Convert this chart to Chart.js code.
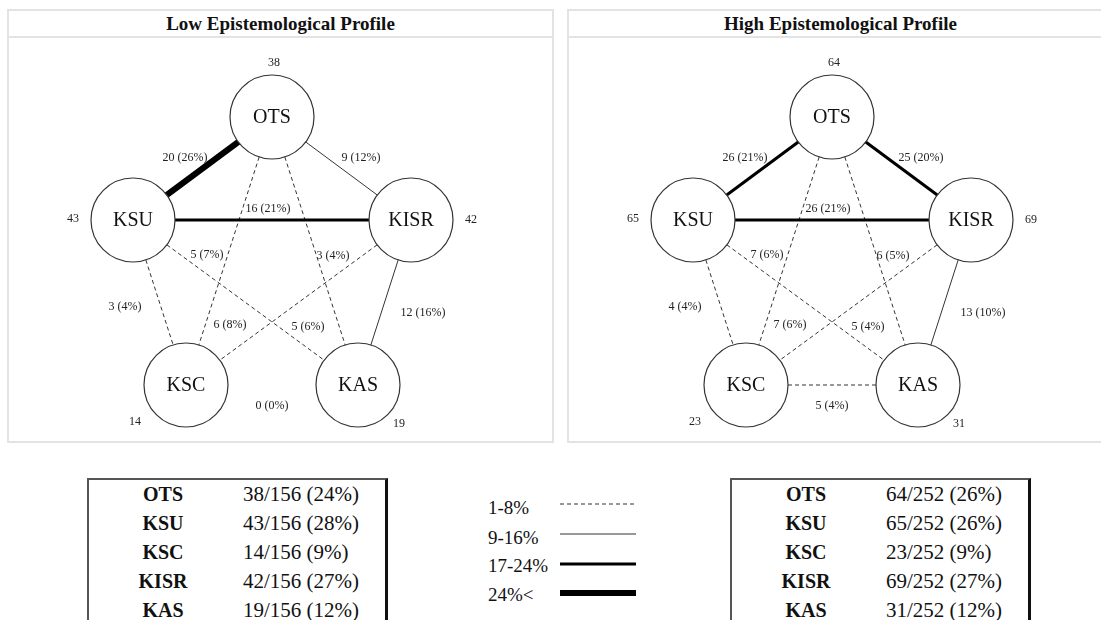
<!DOCTYPE html>
<html>
<head>
<meta charset="utf-8">
<script src="https://cdn.jsdelivr.net/npm/chart.js@4.4.1/dist/chart.umd.min.js"></script>
<style>
  body { margin: 0; width: 1101px; height: 620px; overflow: hidden; background: #fff; position: relative;
         font-family: 'Liberation Serif', 'Times New Roman', serif; color: #111; }
  .panel { position: absolute; top: 9px; width: 547px; height: 434px; border: 2px solid #e3e3e3; box-sizing: border-box; }
  .panel-title { position: absolute; left: 0; top: 0; width: 100%; height: 25px; line-height: 25px; text-align: center;
                 font-weight: bold; font-size: 19px; border-bottom: 2px solid #e3e3e3; }
  .panel canvas { position: absolute; left: 0; top: 0; }
  .share-table { position: absolute; top: 478px; width: 301px; height: 160px; box-sizing: border-box;
                 border-top: 2px solid #555; border-left: 2px solid #555; border-right: 3px solid #111; }
  .share-row { position: absolute; left: 0; width: 100%; height: 29px; line-height: 29px; }
  .share-row .name { position: absolute; left: 0; width: 148px; text-align: center; font-weight: bold; font-size: 20px; }
  .share-row .value { position: absolute; left: 154px; font-size: 21px; }
  .legend-label { position: absolute; left: 488px; font-size: 19px; height: 24px; line-height: 24px; }
  .legend-line { position: absolute; left: 560px; }
</style>
</head>
<body>

<div class="panel" style="left:7px">
  <div class="panel-title">Low Epistemological Profile</div>
  <canvas id="lowChart" width="543" height="430"></canvas>
</div>
<div class="panel" style="left:567px">
  <div class="panel-title">High Epistemological Profile</div>
  <canvas id="highChart" width="543" height="430"></canvas>
</div>

<div class="share-table" id="low-table" style="left:87px"></div>
<div class="share-table" id="high-table" style="left:730px"></div>
<div id="legend"></div>

<script>
// institutions, in table order
const nodeNames = ['OTS', 'KSU', 'KSC', 'KISR', 'KAS'];

// node counts per profile
const lowNodeCounts = [38, 43, 14, 42, 19];
const lowNodePct = [24, 28, 9, 27, 12];
const lowTotal = 156;
const highNodeCounts = [64, 65, 23, 69, 31];
const highNodePct = [26, 26, 9, 27, 12];
const highTotal = 252;

// collaborations between institutions
const edgeFrom = ['OTS', 'OTS', 'KSU', 'KSU', 'KISR', 'OTS', 'OTS', 'KSU', 'KISR', 'KSC'];
const edgeTo   = ['KSU', 'KISR', 'KISR', 'KAS', 'KSC', 'KSC', 'KAS', 'KSC', 'KAS', 'KAS'];
const lowEdgeCounts  = [20, 9, 16, 5, 3, 6, 5, 3, 12, 0];
const lowEdgePct     = [26, 12, 21, 7, 4, 8, 6, 4, 16, 0];
const highEdgeCounts = [26, 25, 26, 7, 6, 7, 5, 4, 13, 5];
const highEdgePct    = [21, 20, 21, 6, 5, 6, 4, 4, 10, 4];

// line classes of the legend
const tierLabels = ['1-8%', '9-16%', '17-24%', '24%<'];
const tierMax = [8, 16, 24, Infinity];

// pentagon layout (same for both panels)
const nodeX = [263, 124, 177, 402, 349];
const nodeY = [106, 209, 374, 209, 374];
const countX = [265, 64, 126, 462, 390];
const countY = [52, 208, 411, 209, 413];
const edgeLabelX = [176, 352, 259, 198, 324, 221, 299, 116, 414, 263];
const edgeLabelY = [147, 147, 198, 244, 245, 314, 316, 296, 302, 395];

const tierStyles = [
    { width: 1, dash: [4, 3], color: '#333' },
    { width: 1, dash: [], color: '#333' },
    { width: 3, dash: [], color: '#000' },
    { width: 6, dash: [], color: '#000' }
];

const SERIF = "'Liberation Serif', 'Times New Roman', serif";

function tierFor(pct) {
    return tierMax.findIndex(m => pct <= m);
}

function nodePoint(name) {
    const i = nodeNames.indexOf(name);
    return { x: nodeX[i], y: nodeY[i] };
}

const labelPlugin = {
    id: 'networkLabels',
    afterDatasetsDraw(chart) {
        const { ctx, scales: { x, y } } = chart;
        const o = chart.options.plugins.networkLabels;
        ctx.save();
        ctx.fillStyle = '#111';
        ctx.textAlign = 'center';
        ctx.textBaseline = 'middle';

        // institution names inside circles
        ctx.font = `20px ${SERIF}`;
        nodeNames.forEach((n, i) => ctx.fillText(n, x.getPixelForValue(nodeX[i]), y.getPixelForValue(nodeY[i]) + 1));

        // counts next to circles
        ctx.font = `12px ${SERIF}`;
        ctx.fillStyle = '#222';
        o.counts.forEach((c, i) => ctx.fillText(String(c), x.getPixelForValue(countX[i]), y.getPixelForValue(countY[i])));

        // edge counts
        o.edgeCounts.forEach((c, i) => {
            ctx.fillText(`${c} (${o.edgePct[i]}%)`, x.getPixelForValue(edgeLabelX[i]), y.getPixelForValue(edgeLabelY[i]));
        });
        ctx.restore();
    }
};

function renderNetwork(canvasId, counts, edgeCounts, edgePct) {
    const ctx = document.getElementById(canvasId).getContext('2d');

    const edgeSets = [];
    edgeFrom.forEach((from, i) => {
        if (edgePct[i] <= 0) return; // no line for 0%
        const st = tierStyles[tierFor(edgePct[i])];
        edgeSets.push({
            label: `${from}-${edgeTo[i]}`,
            data: [nodePoint(from), nodePoint(edgeTo[i])],
            showLine: true,
            borderColor: st.color,
            borderWidth: st.width,
            borderDash: st.dash,
            pointRadius: 0,
            pointHoverRadius: 0,
            fill: false,
            order: 1
        });
    });

    new Chart(ctx, {
        type: 'scatter',
        data: {
            datasets: [{
                label: 'Institutions',
                data: nodeNames.map((n, i) => ({ x: nodeX[i], y: nodeY[i] })),
                pointRadius: 42,
                pointHoverRadius: 42,
                backgroundColor: '#fff',
                borderColor: '#333',
                borderWidth: 1.2,
                order: 0
            }, ...edgeSets]
        },
        options: {
            responsive: false,
            animation: false,
            events: [],
            layout: { padding: 0, autoPadding: false },
            plugins: {
                legend: { display: false },
                tooltip: { enabled: false },
                networkLabels: { counts, edgeCounts, edgePct }
            },
            scales: {
                x: { type: 'linear', display: false, min: 0, max: 543 },
                y: { type: 'linear', display: false, min: 0, max: 430, reverse: true }
            }
        },
        plugins: [labelPlugin]
    });
}

function fillTable(id, counts, pct, total) {
    const box = document.getElementById(id);
    nodeNames.forEach((n, i) => {
        const row = document.createElement('div');
        row.className = 'share-row';
        row.style.top = (29 * i) + 'px';
        row.innerHTML = `<span class="name">${n}</span><span class="value">${counts[i]}/${total} (${pct[i]}%)</span>`;
        box.appendChild(row);
    });
}

function buildLegend() {
    const legend = document.getElementById('legend');
    const rowY = [508, 538, 566, 595];
    const lineY = [504, 534, 564, 593];
    tierLabels.forEach((t, i) => {
        const lab = document.createElement('div');
        lab.className = 'legend-label';
        lab.style.top = (rowY[i] - 12) + 'px';
        lab.textContent = t;
        legend.appendChild(lab);

        const st = tierStyles[i];
        const c = document.createElement('canvas');
        c.className = 'legend-line';
        c.width = 76; c.height = 10;
        c.style.top = (lineY[i] - 5) + 'px';
        const g = c.getContext('2d');
        g.strokeStyle = st.color;
        g.lineWidth = st.width;
        g.setLineDash(st.dash);
        g.beginPath();
        g.moveTo(0, 5);
        g.lineTo(76, 5);
        g.stroke();
        legend.appendChild(c);
    });
}

renderNetwork('lowChart', lowNodeCounts, lowEdgeCounts, lowEdgePct);
renderNetwork('highChart', highNodeCounts, highEdgeCounts, highEdgePct);
fillTable('low-table', lowNodeCounts, lowNodePct, lowTotal);
fillTable('high-table', highNodeCounts, highNodePct, highTotal);
buildLegend();
</script>
</body>
</html>
